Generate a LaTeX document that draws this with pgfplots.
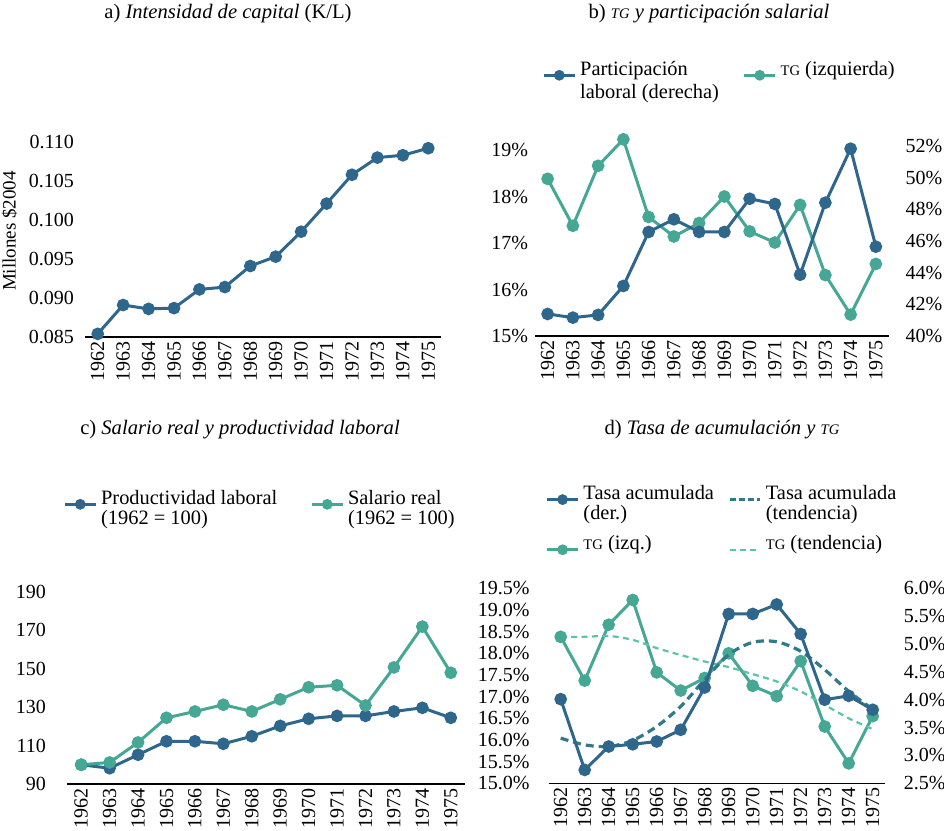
\documentclass[border=0pt]{standalone}
\usepackage{fontspec}
\setmainfont{Liberation Serif}
\usepackage{pgfplots}
\pgfplotsset{compat=1.18}
\definecolor{cdark}{HTML}{2F678C}
\definecolor{cteal}{HTML}{45A794}
\definecolor{cdash}{HTML}{317A87}
\definecolor{clight}{HTML}{5CC2A8}
\newcommand{\tickfont}{\fontsize{10}{10}\selectfont}
\newcommand{\titlefont}{\fontsize{10.3}{12}\selectfont}
\newcommand{\tg}{{\fontsize{7.3}{8}\selectfont TG}}
\newcommand{\twol}[2]{{\begin{tabular}[t]{@{}l@{}}#1\\#2\end{tabular}}}
\pgfplotsset{
  panel/.style={
    scale only axis, clip=false,
    xmin=-0.5, xmax=13.5, xtick={0,...,13},
    xticklabels={1962,1963,1964,1965,1966,1967,1968,1969,1970,1971,1972,1973,1974,1975},
    separate axis lines,
    axis x line*=bottom, axis y line*=left,
    x axis line style={-,black,line width=0.6pt},
    y axis line style={draw=none},
    major tick length=0pt,
    ticklabel style={font=\tickfont},
    xticklabel style={rotate=90, anchor=east, inner sep=2pt},
  },
  rightpanel/.style={
    scale only axis, clip=false,
    xmin=-0.5, xmax=13.5, xtick=\empty,
    axis x line=none, axis y line*=right,
    y axis line style={draw=none},
    major tick length=0pt,
    ticklabel style={font=\tickfont},
  },
  myleg/.style={
    legend columns=2,
    legend style={draw=none, fill=none, inner sep=0pt, anchor=north west,
      cells={anchor=base west}},
    legend image code/.code={\draw[mark repeat=2,mark phase=2,##1,mark size=1.9pt] plot coordinates {(0cm,0cm) (0.27cm,0cm) (0.54cm,0cm)};},
  },
  sdark/.style={color=cdark, line width=1.5pt, mark=*, mark size=2.4pt, mark options={solid}},
  steal/.style={color=cteal, line width=1.5pt, mark=*, mark size=2.4pt, mark options={solid}},
}
\begin{document}
\begin{tikzpicture}
\useasboundingbox (0,0) rectangle (472pt,415.5pt);
% ---------- titles
\node[font=\titlefont] at (114pt,408.5pt) {a) \textit{Intensidad de capital} (K/L)};
\node[font=\titlefont] at (354.5pt,408.5pt) {b) \textit{\tg\ y participación salarial}};
\node[font=\titlefont] at (120pt,200.5pt) {c) \textit{Salario real y productividad laboral}};
\node[font=\titlefont] at (361pt,200.5pt) {d) \textit{Tasa de acumulación y \tg}};
\node[font=\fontsize{9.5}{11}\selectfont, rotate=90] at (4.75pt,300pt) {Millones \$2004};
% ---------- panel a
\begin{axis}[panel, at={(42.5pt,247pt)}, anchor=south west, width=178pt, height=97.5pt,
  ymin=0.085, ymax=0.110, ytick={0.085,0.090,0.095,0.100,0.105,0.110},
  yticklabels={0.085,0.090,0.095,0.100,0.105,0.110},
  yticklabel style={xshift=-2pt}]
\addplot[sdark] coordinates {(0,0.0854) (1,0.0891) (2,0.0886) (3,0.0887) (4,0.0911) (5,0.0914) (6,0.0941) (7,0.0953) (8,0.0985) (9,0.1021) (10,0.1058) (11,0.1080) (12,0.1083) (13,0.1092)};
\end{axis}
% ---------- panel b (left: TG)
\begin{axis}[panel, at={(267.5pt,247.5pt)}, anchor=south west, width=176.75pt, height=95pt,
  ymin=15, ymax=19.086, ytick={15,16,17,18,19},
  yticklabels={15\%,16\%,17\%,18\%,19\%}]
\addplot[steal] coordinates {(0,18.38) (1,17.37) (2,18.66) (3,19.23) (4,17.56) (5,17.14) (6,17.43) (7,18.00) (8,17.25) (9,17.01) (10,17.82) (11,16.31) (12,15.46) (13,16.55)};
\end{axis}
\begin{axis}[rightpanel, myleg, at={(267.5pt,247.5pt)}, anchor=south west, width=176.75pt, height=95pt,
  ymin=40, ymax=52, ytick={40,42,44,46,48,50,52},
  yticklabels={40\%,42\%,44\%,46\%,48\%,50\%,52\%},
  yticklabel style={xshift=5pt},
  legend style={at={(0.02,1.48)}, font=\fontsize{10.2}{11.5}\selectfont,
    /tikz/every even column/.append style={column sep=10pt}}]
\addplot[sdark] coordinates {(0,41.39) (1,41.16) (2,41.33) (3,43.16) (4,46.57) (5,47.37) (6,46.57) (7,46.57) (8,48.67) (9,48.34) (10,43.87) (11,48.42) (12,51.83) (13,45.64)};
\addlegendentry{\twol{Participación}{laboral (derecha)}}
\addlegendimage{steal}
\addlegendentry{\tg\ (izquierda)}
\end{axis}
% ---------- panel c
\begin{axis}[panel, myleg, at={(33.5pt,23.5pt)}, anchor=south west, width=199pt, height=96.2pt,
  ymin=90, ymax=190, ytick={90,110,130,150,170,190},
  yticklabels={90,110,130,150,170,190},
  yticklabel style={xshift=-7pt},
  legend style={at={(-0.01,1.55)}, font=\fontsize{10.2}{9.2}\selectfont,
    /tikz/every even column/.append style={column sep=14.5pt}}]
\addplot[sdark] coordinates {(0,100) (1,98.2) (2,105.2) (3,112.2) (4,112.2) (5,110.9) (6,114.8) (7,120.2) (8,123.9) (9,125.4) (10,125.4) (11,127.7) (12,129.6) (13,124.4)};
\addlegendentry{\twol{Productividad laboral}{(1962 = 100)}}
\addplot[steal] coordinates {(0,100) (1,101.2) (2,111.6) (3,124.4) (4,127.7) (5,131.2) (6,127.7) (7,134.0) (8,140.3) (9,141.3) (10,130.8) (11,150.6) (12,171.8) (13,147.8)};
\addlegendentry{\twol{Salario real}{(1962 = 100)}}
\end{axis}
% ---------- panel d (left: TG)
\begin{axis}[panel, at={(274.35pt,23.85pt)}, anchor=south west, width=168pt, height=97.5pt,
  ymin=15, ymax=19.5, ytick={15,15.5,16,16.5,17,17.5,18,18.5,19,19.5},
  yticklabels={15.0\%,15.5\%,16.0\%,16.5\%,17.0\%,17.5\%,18.0\%,18.5\%,19.0\%,19.5\%},
  yticklabel style={xshift=-6pt}]
\addplot[steal] coordinates {(0,18.38) (1,17.37) (2,18.66) (3,19.23) (4,17.56) (5,17.14) (6,17.43) (7,18.00) (8,17.25) (9,17.01) (10,17.82) (11,16.31) (12,15.46) (13,16.55)};
\addplot[color=clight, line width=1.1pt, dash pattern=on 3pt off 2.2pt, smooth] coordinates {(0,18.38) (1,18.38) (2,18.40) (3,18.31) (4,18.12) (5,17.96) (6,17.81) (7,17.68) (8,17.52) (9,17.35) (10,17.12) (11,16.81) (12,16.50) (13,16.25)};
\end{axis}
\begin{axis}[rightpanel, myleg, at={(274.35pt,23.85pt)}, anchor=south west, width=168pt, height=97.5pt,
  ymin=2.5, ymax=6.0, ytick={2.5,3,3.5,4,4.5,5,5.5,6},
  yticklabels={2.5\%,3.0\%,3.5\%,4.0\%,4.5\%,5.0\%,5.5\%,6.0\%},
  yticklabel style={xshift=6pt},
  legend style={at={(-0.01,1.55)}, font=\fontsize{10.2}{10}\selectfont,
    /tikz/every even column/.append style={column sep=5pt},
    row sep=12.5pt}]
\addplot[color=cdash, line width=1.6pt, dash pattern=on 4pt off 2.5pt, smooth, forget plot] coordinates {(0,3.31) (1,3.19) (2,3.16) (3,3.27) (4,3.52) (5,3.88) (6,4.36) (7,4.81) (8,5.03) (9,5.04) (10,4.87) (11,4.54) (12,4.15) (13,3.83)};
\addplot[sdark] coordinates {(0,4.01) (1,2.74) (2,3.16) (3,3.20) (4,3.25) (5,3.46) (6,4.22) (7,5.54) (8,5.54) (9,5.71) (10,5.18) (11,4.00) (12,4.07) (13,3.82)};
\addlegendentry{\twol{Tasa acumulada}{(der.)}}
\addlegendimage{color=cdash, line width=1.6pt, dash pattern=on 3pt off 1.5pt}
\addlegendentry{\twol{Tasa acumulada}{(tendencia)}}
\addlegendimage{steal}
\addlegendentry{\tg\ (izq.)}
\addlegendimage{color=clight, line width=1.1pt, dash pattern=on 3pt off 2.2pt}
\addlegendentry{\tg\ (tendencia)}
\end{axis}
\end{tikzpicture}
\end{document}
